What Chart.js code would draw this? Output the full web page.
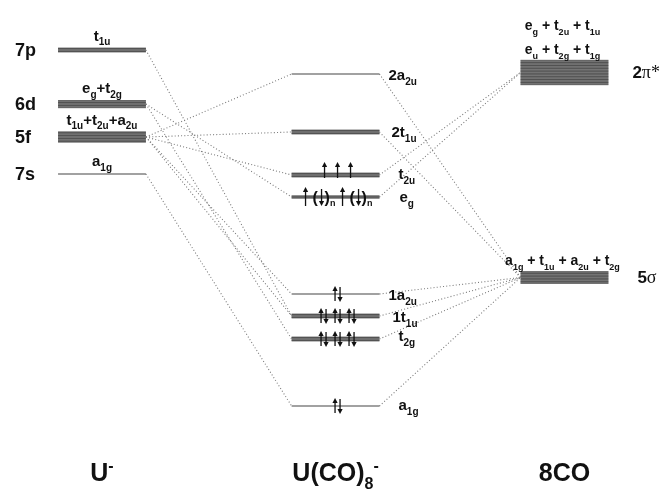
<!DOCTYPE html>
<html lang="en">
<head>
    <meta charset="UTF-8">
    <title>U(CO)8- MO diagram</title>
    <style>
        body {
            margin: 0;
            background-color: #fff;
        }
        .chart-container {
            width: 666px;
            height: 493px;
        }
    </style>
</head>
<body>
    <div class="chart-container">
        <canvas id="moChart"></canvas>
    </div>
    <script src="https://cdn.jsdelivr.net/npm/chart.js"></script>
    <script>
        // energies are in arbitrary units (0 = bottom edge)
        const uLevels = ['7p', '6d', '5f', '7s'];
        const uEnergies = [443, 389, 356, 319];
        const uDegeneracy = [3, 5, 7, 1];
        const uSymmetry = ['t_{1u}', 'e_{g}+t_{2g}', 't_{1u}+t_{2u}+a_{2u}', 'a_{1g}'];

        const complexLevels = ['2a_{2u}', '2t_{1u}', 't_{2u}', 'e_{g}', '1a_{2u}', '1t_{1u}', 't_{2g}', 'a_{1g}'];
        const complexEnergies = [419, 361, 318, 296, 199, 177, 154, 87];
        const complexDegeneracy = [1, 3, 3, 2, 1, 3, 3, 1];
        const complexElectrons = [[], [], ['u', 'u', 'u'], ['u', 'p', 'u', 'p'], ['ud'], ['ud', 'ud', 'ud'], ['ud', 'ud', 'ud'], ['ud']];

        const coLevels = ['2~{π*}', '5~{σ}'];
        const coEnergies = [420.5, 215.5];
        const coDegeneracy = [16, 8];
        const coSymmetry = [['e_{g} + t_{2u} + t_{1u}', 'e_{u} + t_{2g} + t_{1g}'], ['a_{1g} + t_{1u} + a_{2u} + t_{2g}']];

        const fragmentNames = ['U^{-}', 'U(CO)_{8}^{-}', '8CO'];

        // correlation lines: [from level, to level]
        const uToComplex = [[0, 5], [1, 3], [1, 6], [2, 0], [2, 1], [2, 2], [2, 4], [2, 5], [3, 7]];
        const complexToCo = [[0, 1], [1, 1], [2, 0], [3, 0], [4, 1], [5, 1], [6, 1], [7, 1]];

        // layout
        const colX = [0, 1.01, 2];
        const halfW = 0.19;
        const X_MIN = -0.441, X_MAX = 2.439;
        const LINE_GAP = 1.55;
        const FONT = '"Liberation Sans", Arial, sans-serif';
        const SERIF = '"Liberation Serif", "DejaVu Serif", serif';
        const complexLabelDx = [9, 12, 19, 20, 9, 13, 19, 19];
        const complexLabelDy = [6, 5, 4, 5, 6, 6, 2, 4];

        const datasets = [];

        function addLevel(col, energy, n) {
            datasets.push({
                data: [{ x: colX[col] - halfW, y: energy }, { x: colX[col] + halfW, y: energy }],
                borderColor: n > 1 ? '#8e8e8e' : '#444',
                borderWidth: n > 1 ? n * LINE_GAP + 0.5 : 1.2,
                borderCapStyle: 'butt',
                degeneracy: n,
                order: 1
            });
        }

        function addLink(colA, eA, colB, eB) {
            datasets.push({
                data: [{ x: colX[colA] + halfW, y: eA }, { x: colX[colB] - halfW, y: eB }],
                borderColor: '#7a7a7a',
                borderWidth: 1.1,
                borderDash: [1, 2.2],
                order: 2
            });
        }

        uToComplex.forEach(([a, b]) => addLink(0, uEnergies[a], 1, complexEnergies[b]));
        complexToCo.forEach(([a, b]) => addLink(1, complexEnergies[a], 2, coEnergies[b]));
        uEnergies.forEach((e, i) => addLevel(0, e, uDegeneracy[i]));
        complexEnergies.forEach((e, i) => addLevel(1, e, complexDegeneracy[i]));
        coEnergies.forEach((e, i) => addLevel(2, e, coDegeneracy[i]));

        // rich text: _{sub}, ^{sup}, ~{serif}
        function parseRich(str) {
            const parts = [];
            const re = /([_^~])\{([^}]*)\}|([^_^~]+)/g;
            let m;
            while ((m = re.exec(str))) {
                if (m[3]) parts.push({ text: m[3], mode: 'base' });
                else parts.push({ text: m[2], mode: { '_': 'sub', '^': 'sup', '~': 'serif' }[m[1]] });
            }
            return parts;
        }

        function partFont(p, size) {
            if (p.mode === 'serif') return (size + 1) + 'px ' + SERIF;
            const s = p.mode === 'base' ? size : Math.round(size * 0.64);
            return 'bold ' + s + 'px ' + FONT;
        }

        function drawRich(ctx, str, x, y, size, align) {
            const parts = parseRich(str);
            let width = 0;
            parts.forEach(p => {
                ctx.font = partFont(p, size);
                p.w = ctx.measureText(p.text).width;
                width += p.w;
            });
            let cx = align === 'center' ? x - width / 2 : x;
            parts.forEach(p => {
                ctx.font = partFont(p, size);
                let dy = 0;
                if (p.mode === 'sub') dy = size * 0.32;
                if (p.mode === 'sup') dy = -size * 0.42;
                ctx.fillText(p.text, cx, y + dy);
                cx += p.w;
            });
        }

        function drawArrow(ctx, x, yFrom, yTo) {
            const dir = yTo < yFrom ? -1 : 1;
            ctx.beginPath();
            ctx.moveTo(x, yFrom);
            ctx.lineTo(x, yTo - dir * 3);
            ctx.stroke();
            ctx.beginPath();
            ctx.moveTo(x, yTo);
            ctx.lineTo(x - 2.6, yTo - dir * 5);
            ctx.lineTo(x + 2.6, yTo - dir * 5);
            ctx.closePath();
            ctx.fill();
        }

        const tokenWidth = { u: 6, ud: 10, p: 23 };

        function drawElectrons(ctx, tokens, cx, y) {
            if (!tokens.length) return;
            const lone = tokens.indexOf('p') < 0 && tokens[0] === 'u';
            const gap = lone ? 7 : 4;
            let total = 0;
            tokens.forEach(t => { total += tokenWidth[t]; });
            total += gap * (tokens.length - 1);
            let x = cx - total / 2;
            tokens.forEach(t => {
                if (t === 'u') {
                    drawArrow(ctx, x + 3, lone ? y + 3 : y + 9, lone ? y - 13 : y - 10);
                } else if (t === 'ud') {
                    drawArrow(ctx, x + 2.5, y + 7, y - 8);
                    drawArrow(ctx, x + 7.5, y - 7, y + 8);
                } else if (t === 'p') {
                    ctx.font = 'bold 16px ' + FONT;
                    ctx.fillText('(', x, y + 6);
                    drawArrow(ctx, x + 9, y - 8, y + 9);
                    ctx.fillText(')', x + 12, y + 6);
                    ctx.font = 'bold 9px ' + FONT;
                    ctx.fillText('n', x + 17.5, y + 9);
                }
                x += tokenWidth[t] + gap;
            });
        }

        const diagramPlugin = {
            id: 'diagram',
            afterDatasetsDraw(chart) {
                const ctx = chart.ctx;
                const xs = chart.scales.x;
                const ys = chart.scales.y;
                ctx.save();

                // stripes of degenerate levels
                chart.data.datasets.forEach(ds => {
                    if (!ds.degeneracy || ds.degeneracy < 2) return;
                    const x1 = xs.getPixelForValue(ds.data[0].x);
                    const x2 = xs.getPixelForValue(ds.data[1].x);
                    const yc = ys.getPixelForValue(ds.data[0].y);
                    ctx.strokeStyle = '#444';
                    ctx.lineWidth = 0.85;
                    for (let i = 0; i < ds.degeneracy; i++) {
                        const yy = yc - (ds.degeneracy - 1) * LINE_GAP / 2 + i * LINE_GAP;
                        ctx.beginPath();
                        ctx.moveTo(x1, yy);
                        ctx.lineTo(x2, yy);
                        ctx.stroke();
                    }
                });

                ctx.fillStyle = '#111';
                ctx.strokeStyle = '#111';
                ctx.lineWidth = 1.3;
                ctx.textBaseline = 'alphabetic';
                ctx.textAlign = 'left';

                // U- atomic levels
                const c0 = xs.getPixelForValue(colX[0]);
                const l0 = xs.getPixelForValue(colX[0] - halfW);
                uLevels.forEach((name, i) => {
                    const y = ys.getPixelForValue(uEnergies[i]);
                    const half = uDegeneracy[i] * LINE_GAP / 2;
                    ctx.font = 'bold 18px ' + FONT;
                    ctx.fillText(name, l0 - 43, y + 6);
                    drawRich(ctx, uSymmetry[i], c0, y - half - 7, 15, 'center');
                });

                // complex levels
                const c1 = xs.getPixelForValue(colX[1]);
                const r1 = xs.getPixelForValue(colX[1] + halfW);
                complexLevels.forEach((name, i) => {
                    const y = ys.getPixelForValue(complexEnergies[i]);
                    drawRich(ctx, name, r1 + complexLabelDx[i], y + complexLabelDy[i], 15, 'left');
                    drawElectrons(ctx, complexElectrons[i], c1 + 2, y);
                });

                // CO levels
                const c2 = xs.getPixelForValue(colX[2]);
                const r2 = xs.getPixelForValue(colX[2] + halfW);
                coLevels.forEach((name, i) => {
                    const y = ys.getPixelForValue(coEnergies[i]);
                    const half = coDegeneracy[i] * LINE_GAP / 2;
                    drawRich(ctx, name, r2 + (i === 0 ? 24 : 29), y + 5, 17, 'left');
                    const rows = coSymmetry[i];
                    rows.forEach((row, k) => {
                        const base = y - half - 6 - (rows.length - 1 - k) * 24;
                        drawRich(ctx, row, c2 - 2, base, 14, 'center');
                    });
                });

                // fragment names
                const bottom = ys.getPixelForValue(ys.min);
                fragmentNames.forEach((name, i) => {
                    const cx = xs.getPixelForValue(colX[i]);
                    drawRich(ctx, name, cx, bottom - 12, 25, 'center');
                });

                ctx.restore();
            }
        };

        const chartCtx = document.getElementById('moChart').getContext('2d');
        const moChart = new Chart(chartCtx, {
            type: 'line',
            data: { datasets: datasets },
            options: {
                responsive: true,
                maintainAspectRatio: false,
                animation: false,
                layout: { padding: 0 },
                elements: {
                    point: { radius: 0 },
                    line: { tension: 0 }
                },
                plugins: {
                    legend: { display: false },
                    tooltip: { enabled: false }
                },
                scales: {
                    x: { type: 'linear', display: false, min: X_MIN, max: X_MAX },
                    y: { type: 'linear', display: false, min: 0, max: 493 }
                }
            },
            plugins: [diagramPlugin]
        });
    </script>
</body>
</html>
